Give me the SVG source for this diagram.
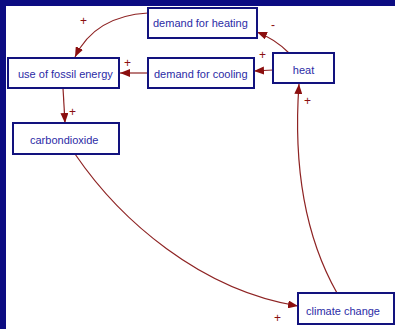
<svg xmlns="http://www.w3.org/2000/svg" width="395" height="329" viewBox="0 0 395 329">
  <style>
    .node rect { fill: #ffffff; stroke: #12127e; stroke-width: 2; }
    .node text { font-family: "Liberation Sans", Arial, sans-serif; font-size: 11px; fill: #2b2ba6; }
    .link { fill: none; stroke: #8e2323; stroke-width: 1.2; marker-end: url(#arrow); }
    .sign { font-family: "Liberation Sans", Arial, sans-serif; font-size: 12px; fill: #8b1010; }
  </style>
  <defs>
    <marker id="arrow" markerUnits="userSpaceOnUse" markerWidth="11" markerHeight="8" refX="10" refY="4" orient="auto">
      <path d="M0,0 L10,4 L0,8 z" fill="#8b0f0f"/>
    </marker>
  </defs>

  <!-- frame -->
  <rect x="0" y="0" width="395" height="329" fill="#0c0c82"/>
  <rect x="6" y="6" width="389" height="323" fill="#ffffff"/>

  <!-- connectors -->
  <g id="connectors">
    <path class="link" d="M148,13 Q95,16 75,57"/>
    <path class="link" d="M148,73 L120,73"/>
    <path class="link" d="M63,88 L65,123"/>
    <path class="link" d="M289,53 Q275,39 257,32"/>
    <path class="link" d="M273,70 L254,71"/>
    <path class="link" d="M337,293 Q290,210 299,84"/>
    <path class="link" d="M75,154 C120,220 200,290 298,306"/>
    <text class="sign" x="80" y="25">+</text>
    <text class="sign" x="124" y="67">+</text>
    <text class="sign" x="69" y="116">+</text>
    <text class="sign" x="271" y="29">-</text>
    <text class="sign" x="259" y="59">+</text>
    <text class="sign" x="304" y="105">+</text>
    <text class="sign" x="274" y="322">+</text>
  </g>

  <!-- nodes -->
  <g id="demand-heating" class="node">
    <rect x="148" y="8" width="109" height="30"/>
    <text x="153" y="27">demand for heating</text>
  </g>
  <g id="use-fossil" class="node">
    <rect x="8" y="58" width="111" height="30"/>
    <text x="18" y="78">use of fossil energy</text>
  </g>
  <g id="demand-cooling" class="node">
    <rect x="148" y="58" width="106" height="30"/>
    <text x="154" y="78">demand for cooling</text>
  </g>
  <g id="heat" class="node">
    <rect x="273" y="53" width="61" height="30"/>
    <text x="303.5" y="74" text-anchor="middle">heat</text>
  </g>
  <g id="carbondioxide" class="node">
    <rect x="13" y="123" width="106" height="31"/>
    <text x="30" y="144">carbondioxide</text>
  </g>
  <g id="climate-change" class="node">
    <rect x="298" y="293" width="96" height="31"/>
    <text x="306" y="315">climate change</text>
  </g>
</svg>
